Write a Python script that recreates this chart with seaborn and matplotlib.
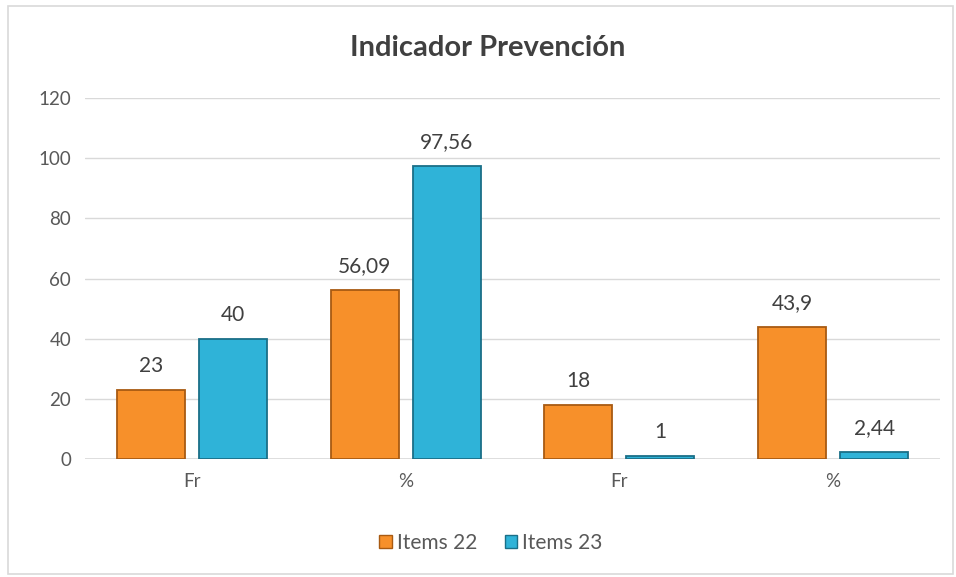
import matplotlib
matplotlib.use("Agg")
import matplotlib.pyplot as plt
import seaborn as sns
import pandas as pd
from matplotlib.patches import Rectangle

title = "Indicador Prevención"
group_ids = ["g1", "g2", "g3", "g4"]
tick_labels = ["Fr", "%", "Fr", "%"]
series_names = ["Items 22", "Items 23"]
items22 = [23, 56.09, 18, 43.9]
items23 = [40, 97.56, 1, 2.44]
colors = ["#F7902A", "#2FB3D8"]
edge_colors = ["#A85A12", "#1A6F88"]

rows = []
for g, v in zip(group_ids, items22):
    rows.append({"grp": g, "serie": series_names[0], "val": v})
for g, v in zip(group_ids, items23):
    rows.append({"grp": g, "serie": series_names[1], "val": v})
df = pd.DataFrame(rows)

sns.set_theme(style="white")
plt.rcParams["font.family"] = ["Lato", "DejaVu Sans"]

fig = plt.figure(figsize=(9.56, 5.77), dpi=100)
ax = fig.add_axes([0.0889, 0.2045, 0.8944, 0.6255])

sns.barplot(data=df, x="grp", y="val", hue="serie", order=group_ids,
            hue_order=series_names, palette=colors, saturation=1,
            width=0.767, gap=0.17, ax=ax, legend=True, zorder=3)

for cont, ec in zip(ax.containers, edge_colors):
    for p in cont.patches:
        p.set_edgecolor(ec)
        p.set_linewidth(1.3)

def fmt(v):
    s = f"{v:g}"
    return s.replace(".", ",")

for cont, vals in zip(ax.containers, [items22, items23]):
    ax.bar_label(cont, labels=[fmt(v) for v in vals], padding=10,
                 fontsize=15, color="#404040")

ax.set_ylim(0, 120)
ax.set_yticks(range(0, 121, 20))
ax.set_xlim(-0.5, 3.5)
ax.set_xticks(range(4))
ax.set_xticklabels(tick_labels)
ax.set_xlabel("")
ax.set_ylabel("")
ax.tick_params(axis="both", length=0, labelsize=13.5, labelcolor="#595959", pad=10)
ax.yaxis.grid(True, color="#D9D9D9", linewidth=1, zorder=0)
ax.set_axisbelow(True)
for s in ax.spines.values():
    s.set_visible(False)
ax.axhline(0, color="#D9D9D9", linewidth=1.2, zorder=2)

fig.text(488 / 956, 1 - 48 / 577, title, fontsize=21, fontweight="bold",
         color="#404040", ha="center", va="center")

leg = fig.legend(*ax.get_legend_handles_labels(), loc="center",
                 bbox_to_anchor=(491 / 956, 1 - 543 / 577), ncol=2,
                 frameon=False, fontsize=15, handlelength=0.6, handleheight=0.6,
                 handletextpad=0.25, columnspacing=1.3)
ax.get_legend().remove()
for t in leg.get_texts():
    t.set_color("#595959")
for h, ec in zip(leg.legend_handles, edge_colors):
    h.set_edgecolor(ec)

fig.patches.append(Rectangle((8 / 956, 0.005), 1 - 8 / 956 - 0.003, 1 - 6 / 577 - 0.005,
                             transform=fig.transFigure, fill=False,
                             edgecolor="#D9D9D9", linewidth=1.2))

fig.savefig("out.png", dpi=100)
